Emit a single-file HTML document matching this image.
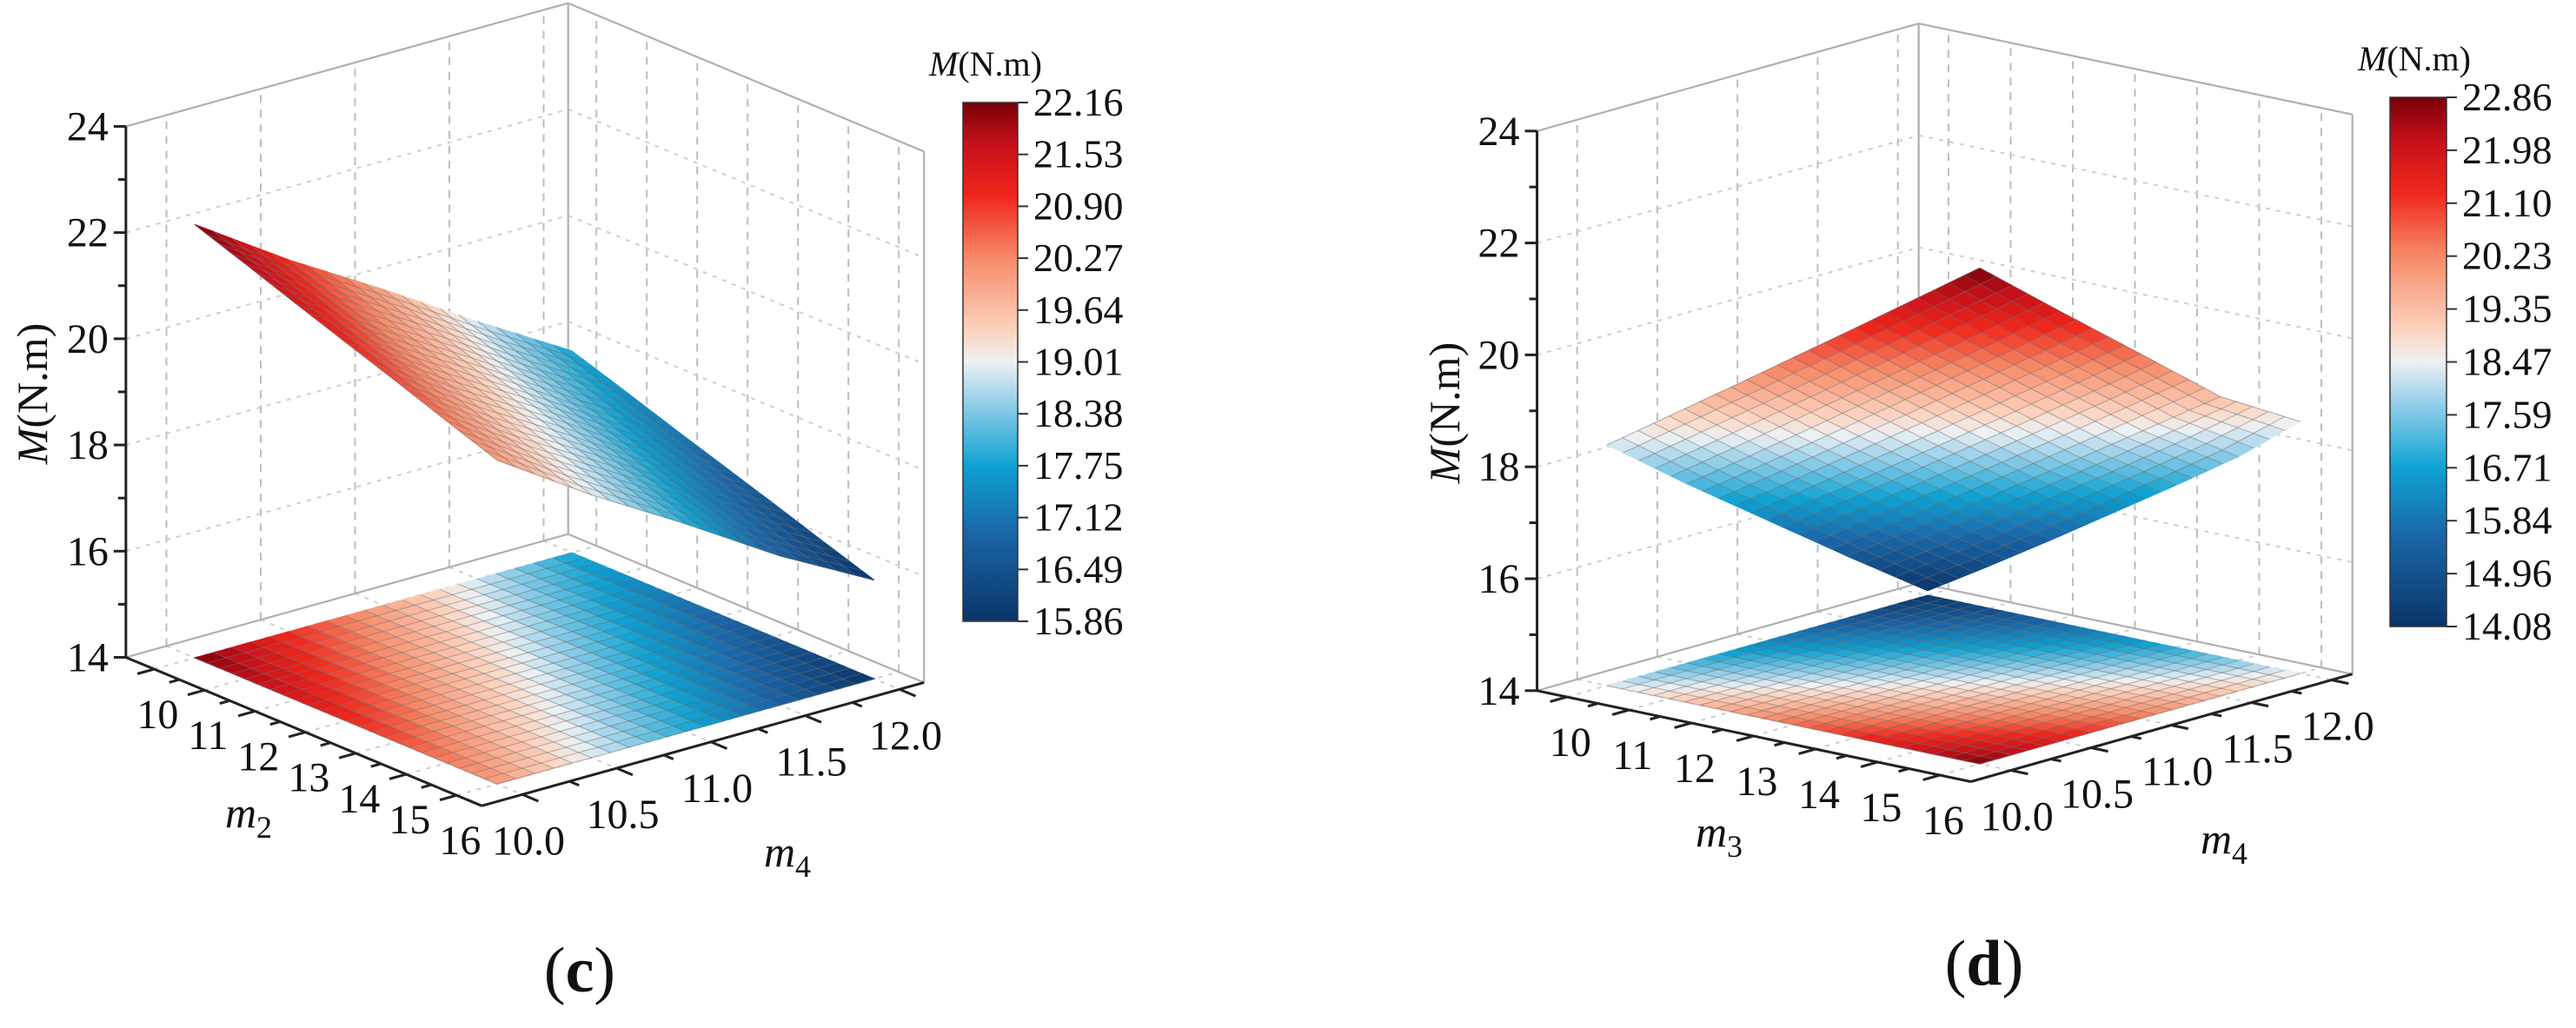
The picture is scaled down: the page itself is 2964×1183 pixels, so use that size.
<!DOCTYPE html>
<html><head><meta charset="utf-8"><style>
html,body{margin:0;padding:0;background:#fff;}
svg{display:block;font-family:"Liberation Serif","DejaVu Serif",serif;}
text{font-family:"Liberation Serif","DejaVu Serif",serif;}
</style></head><body>
<svg id="fig" width="2964" height="1183" viewBox="0 0 2964 1183" xmlns="http://www.w3.org/2000/svg" font-family="Liberation Serif, DejaVu Serif, serif">
<defs>
<linearGradient id="cmap" x1="0" y1="1" x2="0" y2="0">
<stop offset="0" stop-color="#0b3468"/><stop offset="0.17" stop-color="#1a66a8"/><stop offset="0.3" stop-color="#0ea2d2"/><stop offset="0.44" stop-color="#a9d6ec"/><stop offset="0.5" stop-color="#eef1f3"/><stop offset="0.56" stop-color="#fcd3bf"/><stop offset="0.7" stop-color="#f68a68"/><stop offset="0.82" stop-color="#f0261c"/><stop offset="0.92" stop-color="#c6101a"/><stop offset="1" stop-color="#780008"/>
</linearGradient>
</defs>
</svg>
<script>
// ---- data: panel (c) ----
const cM2 = [10, 11, 12, 13, 14, 15, 16];
const cM4 = [10, 10.5, 11, 11.5, 12];
const cM = [
  [22.16, 21.82, 21.47, 21.13, 20.79, 20.44, 20.10],
  [21.00, 20.66, 20.32, 19.98, 19.63, 19.29, 18.95],
  [19.95, 19.61, 19.27, 18.93, 18.59, 18.25, 17.91],
  [18.85, 18.51, 18.17, 17.83, 17.49, 17.15, 16.81],
  [17.80, 17.48, 17.15, 16.83, 16.51, 16.18, 15.86]
];
const cBarTicks = ["15.86","16.49","17.12","17.75","18.38","19.01","19.64","20.27","20.90","21.53","22.16"];
// ---- data: panel (d) ----
const dM3 = [10, 11, 12, 13, 14, 15, 16];
const dM4 = [10, 10.5, 11, 11.5, 12];
const dM = [
  [18.30, 19.05, 19.80, 20.56, 21.32, 22.09, 22.86],
  [17.20, 17.93, 18.67, 19.42, 20.17, 20.92, 21.68],
  [16.15, 16.86, 17.58, 18.30, 19.03, 19.77, 20.52],
  [15.10, 15.79, 16.49, 17.20, 17.91, 18.63, 19.35],
  [14.08, 14.76, 15.46, 16.18, 16.90, 17.64, 18.50]
];
const dBarTicks = ["14.08","14.96","15.84","16.71","17.59","18.47","19.35","20.23","21.10","21.98","22.86"];
const zTicks = [14, 16, 18, 20, 22, 24];
const aTickLabelsC = ["10","11","12","13","14","15","16"];
const bTickLabels = ["10.0","10.5","11.0","11.5","12.0"];

const NS = "http://www.w3.org/2000/svg";
const svg = document.getElementById('fig');
const FF = '"Liberation Serif","DejaVu Serif",serif';
function mk(tag, attrs, parent){ const e=document.createElementNS(NS,tag); for(const k in attrs) e.setAttribute(k,attrs[k]); if(tag==='text') e.style.fontFamily=FF; (parent||svg).appendChild(e); return e; }

const stops=[[0,[11,52,104]],[0.17,[26,102,168]],[0.3,[14,162,210]],[0.44,[169,214,236]],[0.5,[238,241,243]],[0.56,[252,211,191]],[0.7,[246,138,104]],[0.82,[240,38,28]],[0.92,[198,16,26]],[1,[120,0,8]]];
function cmap(t){ t=Math.max(0,Math.min(1,t)); for(let i=1;i<stops.length;i++){ if(t<=stops[i][0]){ const a=stops[i-1],b=stops[i]; const f=(t-a[0])/(b[0]-a[0]); const c=a[1].map((v,k)=>Math.round(v+(b[1][k]-v)*f)); return `rgb(${c[0]},${c[1]},${c[2]})`; } } return 'rgb(120,0,8)'; }

function panel(cfg){
  const g = mk('g',{});
  
  
  const P=(a,b,z)=>[cfg.O[0]+(a-cfg.a0)*cfg.ua[0]+(b-cfg.b0)*cfg.ub[0], cfg.O[1]+(a-cfg.a0)*cfg.ua[1]+(b-cfg.b0)*cfg.ub[1]-(z-14)*cfg.uz];
  const [amin,amax]=cfg.aBox, [bmin,bmax]=cfg.bBox;
  const line=(p,q,st,parent,name)=>{ const l=mk('line',{x1:p[0],y1:p[1],x2:q[0],y2:q[1],style:st},parent);   return l; };
  const grid = mk('g',{},g);
  
  
  const dash='stroke:#bdbdbd;stroke-width:2;stroke-dasharray:9 8;fill:none';
  const dot='stroke:#cfcfcf;stroke-width:2;stroke-dasharray:5 7;fill:none';
  cfg.bVals.forEach(b=>line(P(amin,b,14),P(amin,b,24),dash,grid,'grid-line'));
  cfg.aVals.forEach(a=>line(P(a,bmax,14),P(a,bmax,24),dash,grid,'grid-line'));
  zTicks.slice(1,5).forEach(z=>{ line(P(amin,bmin,z),P(amin,bmax,z),dot,grid,'grid-line'); line(P(amin,bmax,z),P(amax,bmax,z),dot,grid,'grid-line'); });
  cfg.aVals.forEach(a=>line(P(a,bmin,14),P(a,bmax,14),dot,grid,'floor-grid-line'));
  cfg.bVals.forEach(b=>line(P(amin,b,14),P(amax,b,14),dot,grid,'floor-grid-line'));
  const edge='stroke:#b0b0b0;stroke-width:2.2;fill:none';
  line(P(amin,bmin,24),P(amin,bmax,24),edge,g,'box-edge');
  line(P(amin,bmax,24),P(amax,bmax,24),edge,g,'box-edge');
  line(P(amin,bmax,14),P(amin,bmax,24),edge,g,'box-edge');
  line(P(amax,bmax,14),P(amax,bmax,24),edge,g,'box-edge');
  line(P(amin,bmin,14),P(amin,bmax,14),edge,g,'box-edge');
  line(P(amin,bmax,14),P(amax,bmax,14),edge,g,'box-edge');
  const A=cfg.aVals, B=cfg.bVals, M=cfg.M, S_a=4, S_b=5;
  const tz=z=>(z-cfg.zmin)/(cfg.zmax-cfg.zmin);
  function drawSurf(floor, name){
    const sg=mk('g',{},g);
    
    
    const cells=[];
    for(let j=0;j<B.length-1;j++) for(let i=0;i<A.length-1;i++){
      for(let sj=0;sj<S_b;sj++) for(let si=0;si<S_a;si++){
        const pts=[]; let zs=0;
        [[si,sj],[si+1,sj],[si+1,sj+1],[si,sj+1]].forEach(([u,v])=>{
          const fu=u/S_a, fv=v/S_b;
          const z=M[j][i]*(1-fu)*(1-fv)+M[j][i+1]*fu*(1-fv)+M[j+1][i]*(1-fu)*fv+M[j+1][i+1]*fu*fv;
          zs+=z;
          const a=A[i]+(A[i+1]-A[i])*fu, b=B[j]+(B[j+1]-B[j])*fv;
          pts.push(P(a,b,floor?14:z));
        });
        cells.push({pts,z:zs/4});
      }
    }
    cells.forEach(c=>{
      const col=cmap(tz(c.z));
      const pg=mk('polygon',{points:c.pts.map(p=>p[0].toFixed(1)+','+p[1].toFixed(1)).join(' '),fill:col,stroke:col,'stroke-width':1},sg);
      
      
    });
    cells.forEach(c=>{
      const pl=mk('polyline',{points:c.pts.slice(0,3).map(p=>p[0].toFixed(1)+','+p[1].toFixed(1)).join(' '),fill:'none',stroke:'rgba(110,110,110,0.45)','stroke-width':1.2},sg);
      
      
    });
  }
  drawSurf(true,'floor-projection');
  drawSurf(false,'response-surface');
  const ax='stroke:#222;stroke-width:3;fill:none';
  const zb=P(amin,bmin,14), zt=P(amin,bmin,24);
  line(zb,zt,ax,g,'z-axis-line');
  for(let z=14;z<=24;z++){ const p=P(amin,bmin,z); line([p[0]-(z%2?9:14),p[1]],p,ax,g,'z-tick'); }
  zTicks.forEach(z=>{ const p=P(amin,bmin,z); const t=mk('text',{x:p[0]-20,y:p[1]+16,'text-anchor':'end','font-size':48,fill:'#111'},g); t.textContent=z;   });
  line(P(amin,bmin,14),P(amax,bmin,14),ax,g,'a-axis-line');
  line(P(amax,bmin,14),P(amax,bmax,14),ax,g,'b-axis-line');
  const ubn=Math.hypot(...cfg.ub), uan=Math.hypot(...cfg.ua);
  for(let a=A[0];a<=A[A.length-1]+0.01;a+=0.5){ const p=P(a,bmin,14); const L=(a%1?12:20)/ubn; line(p,[p[0]-cfg.ub[0]*L,p[1]-cfg.ub[1]*L],ax,g,'a-tick'); }
  for(let b=B[0];b<=B[B.length-1]+0.01;b+=0.25){ const p=P(amax,b,14); const L=((b*2)%1?12:20)/uan; line(p,[p[0]+cfg.ua[0]*L,p[1]+cfg.ua[1]*L],ax,g,'b-tick'); }
  cfg.aLabels.forEach((s,k)=>{ const p=P(A[k],bmin,14); const t=mk('text',{x:p[0]+4,y:p[1]+52+16,'text-anchor':'middle','font-size':48,fill:'#111'},g); t.textContent=s;   });
  bTickLabels.forEach((s,k)=>{ const p=P(amax,B[k],14); const t=mk('text',{x:p[0]+7,y:p[1]+53+16,'text-anchor':'middle','font-size':48,fill:'#111'},g); t.textContent=s;   });
  const ta=mk('text',{x:cfg.aTitle[0],y:cfg.aTitle[1]+16,'text-anchor':'middle','font-size':50,fill:'#111'},g);
  ta.innerHTML=`<tspan font-style="italic">m</tspan><tspan font-size="36" dy="12">${cfg.aSub}</tspan>`;
   
  const tb=mk('text',{x:cfg.bTitle[0],y:cfg.bTitle[1]+16,'text-anchor':'middle','font-size':50,fill:'#111'},g);
  tb.innerHTML=`<tspan font-style="italic">m</tspan><tspan font-size="36" dy="12">4</tspan>`;
   
  const tz2=mk('text',{x:0,y:0,'text-anchor':'middle','font-size':50,fill:'#111',transform:`translate(${cfg.zTitle[0]+16},${cfg.zTitle[1]}) rotate(-90)`},g);
  tz2.innerHTML=`<tspan font-style="italic">M</tspan>(N.m)`;
   
  const cb=cfg.cbar;
  const r=mk('rect',{x:cb.x,y:cb.y,width:cb.w,height:cb.h,fill:'url(#cmap)',stroke:'#333','stroke-width':1.5},g);
   
  cfg.barTicks.forEach((s,k)=>{ const y=cb.y+cb.h-k*cb.h/(cfg.barTicks.length-1);
    line([cb.x+cb.w,y],[cb.x+cb.w+12,y],'stroke:#333;stroke-width:2',g,'colorbar-tick');
    const t=mk('text',{x:cb.x+cb.w+18,y:y+15,'font-size':46,fill:'#111'},g); t.textContent=s;
      });
  const ct=mk('text',{x:cb.tx,y:cb.ty+12,'text-anchor':'middle','font-size':40,fill:'#111'},g);
  ct.innerHTML=`<tspan font-style="italic">M</tspan>(N.m)`;
   
  const cap=mk('text',{x:cfg.cap[0],y:cfg.cap[1]+24,'text-anchor':'middle','font-size':74,fill:'#111'},g);
  cap.innerHTML=`(<tspan font-weight="bold">${cfg.capL}</tspan>)`;
   
}

panel({name:'panel-c',O:[224,757],a0:10,b0:10,ua:[58,24.2],ub:[217,-60.5],uz:61.1,aBox:[9.44,16.5],bBox:[9.785,12.13],
  aVals:cM2,bVals:cM4,M:cM,zmin:15.86,zmax:22.16,aLabels:aTickLabelsC,aSub:'2',barTicks:cBarTicks,
  aTitle:[286,936],bTitle:[906,981],zTitle:[38,453],cbar:{x:1108,y:118,w:63,h:597,tx:1134,ty:75},cap:[667,1117],capL:'c'});
panel({name:'panel-d',O:[1849,789],a0:10,b0:10,ua:[71.5,15],ub:[184.5,-52],uz:64.4,aBox:[9.52,16.5],bBox:[9.75,12.13],
  aVals:dM3,bVals:dM4,M:dM,zmin:14.08,zmax:22.86,aLabels:aTickLabelsC,aSub:'3',barTicks:dBarTicks,
  aTitle:[1978,958],bTitle:[2559,966],zTitle:[1663,475],cbar:{x:2750,y:112,w:65,h:609,tx:2778,ty:69},cap:[2283,1109],capL:'d'});
</script>
</body></html>
